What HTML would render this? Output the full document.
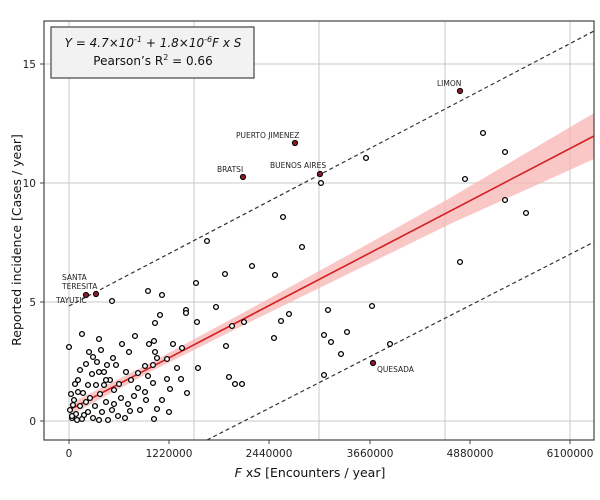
<!DOCTYPE html>
<html><head><meta charset="utf-8"><style>body{margin:0;background:#fff}svg{display:block}</style></head>
<body>
<svg width="600" height="500" viewBox="0 0 600 500" xmlns="http://www.w3.org/2000/svg" font-family="DejaVu Sans, Liberation Sans, sans-serif">
<rect width="600" height="500" fill="#fff"/>
<g stroke="#c8c8c8" stroke-width="1">
<line x1="69" y1="21" x2="69" y2="440"/><line x1="194" y1="21" x2="194" y2="440"/><line x1="319" y1="21" x2="319" y2="440"/><line x1="445" y1="21" x2="445" y2="440"/><line x1="570" y1="21" x2="570" y2="440"/>
<line x1="44" y1="421" x2="594" y2="421"/><line x1="44" y1="302" x2="594" y2="302"/><line x1="44" y1="183" x2="594" y2="183"/><line x1="44" y1="64" x2="594" y2="64"/>
</g>
<polygon points="69,404 150,363 250,309 350,254 450,198 594,113 594,159 450,224 350,273 250,322 150,372 69,416" fill="#f8b4b4" opacity="0.75"/>
<line x1="69" y1="410" x2="594" y2="136" stroke="#d42020" stroke-width="1.6"/>
<line x1="69" y1="306" x2="594" y2="31" stroke="#333" stroke-width="1.2" stroke-dasharray="4,3"/>
<line x1="207" y1="440" x2="594" y2="242" stroke="#333" stroke-width="1.2" stroke-dasharray="4,3"/>
<g fill="#fff" stroke="#000" stroke-width="1.3">
<circle cx="69" cy="347" r="2.4"/><circle cx="82" cy="334" r="2.4"/><circle cx="99" cy="339" r="2.4"/><circle cx="112" cy="301" r="2.4"/><circle cx="135" cy="336" r="2.4"/><circle cx="148" cy="291" r="2.4"/><circle cx="162" cy="295" r="2.4"/><circle cx="160" cy="315" r="2.4"/><circle cx="155" cy="323" r="2.4"/><circle cx="154" cy="341" r="2.4"/><circle cx="149" cy="344" r="2.4"/><circle cx="155" cy="352" r="2.4"/><circle cx="157" cy="358" r="2.4"/><circle cx="145" cy="366" r="2.4"/><circle cx="153" cy="365" r="2.4"/><circle cx="148" cy="376" r="2.4"/><circle cx="153" cy="383" r="2.4"/><circle cx="145" cy="392" r="2.4"/><circle cx="167" cy="359" r="2.4"/><circle cx="173" cy="344" r="2.4"/><circle cx="182" cy="348" r="2.4"/><circle cx="177" cy="368" r="2.4"/><circle cx="167" cy="379" r="2.4"/><circle cx="170" cy="389" r="2.4"/><circle cx="181" cy="379" r="2.4"/><circle cx="187" cy="393" r="2.4"/><circle cx="169" cy="412" r="2.4"/><circle cx="154" cy="419" r="2.4"/><circle cx="186" cy="310" r="2.4"/><circle cx="186" cy="313" r="2.4"/><circle cx="196" cy="283" r="2.4"/><circle cx="197" cy="322" r="2.4"/><circle cx="198" cy="368" r="2.4"/><circle cx="216" cy="307" r="2.4"/><circle cx="225" cy="274" r="2.4"/><circle cx="226" cy="346" r="2.4"/><circle cx="232" cy="326" r="2.4"/><circle cx="229" cy="377" r="2.4"/><circle cx="235" cy="384" r="2.4"/><circle cx="242" cy="384" r="2.4"/><circle cx="244" cy="322" r="2.4"/><circle cx="275" cy="275" r="2.4"/><circle cx="274" cy="338" r="2.4"/><circle cx="281" cy="321" r="2.4"/><circle cx="289" cy="314" r="2.4"/>
<circle cx="460" cy="262" r="2.4"/><circle cx="328" cy="310" r="2.4"/><circle cx="372" cy="306" r="2.4"/><circle cx="324" cy="335" r="2.4"/><circle cx="331" cy="342" r="2.4"/><circle cx="347" cy="332" r="2.4"/><circle cx="390" cy="344" r="2.4"/><circle cx="341" cy="354" r="2.4"/><circle cx="324" cy="375" r="2.4"/>
<circle cx="483" cy="133" r="2.4"/><circle cx="505" cy="152" r="2.4"/><circle cx="465" cy="179" r="2.4"/><circle cx="505" cy="200" r="2.4"/><circle cx="526" cy="213" r="2.4"/><circle cx="366" cy="158" r="2.4"/><circle cx="321" cy="183" r="2.4"/><circle cx="283" cy="217" r="2.4"/><circle cx="207" cy="241" r="2.4"/><circle cx="252" cy="266" r="2.4"/><circle cx="302" cy="247" r="2.4"/>
<circle cx="116" cy="365" r="2.4"/><circle cx="129" cy="352" r="2.4"/><circle cx="122" cy="344" r="2.4"/><circle cx="126" cy="372" r="2.4"/><circle cx="131" cy="380" r="2.4"/><circle cx="138" cy="388" r="2.4"/><circle cx="134" cy="396" r="2.4"/><circle cx="128" cy="404" r="2.4"/><circle cx="121" cy="398" r="2.4"/><circle cx="114" cy="390" r="2.4"/><circle cx="110" cy="380" r="2.4"/><circle cx="104" cy="372" r="2.4"/><circle cx="97" cy="362" r="2.4"/><circle cx="92" cy="374" r="2.4"/><circle cx="86" cy="364" r="2.4"/><circle cx="80" cy="370" r="2.4"/><circle cx="75" cy="384" r="2.4"/><circle cx="83" cy="393" r="2.4"/><circle cx="90" cy="398" r="2.4"/><circle cx="100" cy="394" r="2.4"/><circle cx="106" cy="402" r="2.4"/><circle cx="112" cy="410" r="2.4"/><circle cx="118" cy="416" r="2.4"/><circle cx="102" cy="412" r="2.4"/><circle cx="95" cy="406" r="2.4"/><circle cx="88" cy="412" r="2.4"/><circle cx="80" cy="406" r="2.4"/><circle cx="74" cy="400" r="2.4"/><circle cx="70" cy="410" r="2.4"/><circle cx="72" cy="418" r="2.4"/><circle cx="76" cy="414" r="2.4"/><circle cx="82" cy="419" r="2.4"/><circle cx="86" cy="402" r="2.4"/><circle cx="93" cy="418" r="2.4"/><circle cx="108" cy="420" r="2.4"/><circle cx="125" cy="418" r="2.4"/><circle cx="140" cy="410" r="2.4"/><circle cx="138" cy="373" r="2.4"/><circle cx="119" cy="384" r="2.4"/><circle cx="104" cy="385" r="2.4"/><circle cx="96" cy="385" r="2.4"/><circle cx="88" cy="385" r="2.4"/><circle cx="78" cy="392" r="2.4"/><circle cx="71" cy="394" r="2.4"/><circle cx="73" cy="405" r="2.4"/><circle cx="78" cy="380" r="2.4"/><circle cx="99" cy="372" r="2.4"/><circle cx="107" cy="365" r="2.4"/><circle cx="113" cy="358" r="2.4"/><circle cx="89" cy="352" r="2.4"/><circle cx="93" cy="357" r="2.4"/><circle cx="101" cy="350" r="2.4"/><circle cx="106" cy="380" r="2.4"/><circle cx="114" cy="404" r="2.4"/><circle cx="130" cy="411" r="2.4"/><circle cx="146" cy="400" r="2.4"/><circle cx="162" cy="400" r="2.4"/><circle cx="157" cy="409" r="2.4"/><circle cx="72" cy="416" r="2.4"/><circle cx="77" cy="420" r="2.4"/><circle cx="84" cy="415" r="2.4"/><circle cx="99" cy="420" r="2.4"/>
</g>
<g fill="#8b1a2a" stroke="#000" stroke-width="1"><circle cx="460" cy="91" r="2.6"/><circle cx="295" cy="143" r="2.6"/><circle cx="243" cy="177" r="2.6"/><circle cx="320" cy="174" r="2.6"/><circle cx="86" cy="295" r="2.6"/><circle cx="96" cy="294" r="2.6"/><circle cx="373" cy="363" r="2.6"/></g>
<g font-size="7.5" fill="#222">
<text x="437" y="86">LIMON</text><text x="236" y="138">PUERTO JIMENEZ</text><text x="217" y="172">BRATSI</text><text x="270" y="168">BUENOS AIRES</text><text x="62" y="280">SANTA</text><text x="62" y="289">TERESITA</text><text x="56" y="303">TAYUTIC</text><text x="377" y="372">QUESADA</text>
</g>
<rect x="44" y="21" width="550" height="419" fill="none" stroke="#444" stroke-width="1.2"/>
<g stroke="#444"><line x1="40" y1="64" x2="44" y2="64"/><line x1="40" y1="183" x2="44" y2="183"/><line x1="40" y1="302" x2="44" y2="302"/><line x1="40" y1="421" x2="44" y2="421"/>
<line x1="69" y1="440" x2="69" y2="444"/><line x1="169" y1="440" x2="169" y2="444"/><line x1="269" y1="440" x2="269" y2="444"/><line x1="370" y1="440" x2="370" y2="444"/><line x1="470" y1="440" x2="470" y2="444"/><line x1="570" y1="440" x2="570" y2="444"/></g>
<g font-size="10.5" fill="#222" text-anchor="end"><text x="36" y="68">15</text><text x="36" y="187">10</text><text x="36" y="306">5</text><text x="36" y="425">0</text></g>
<g font-size="10.5" fill="#222" text-anchor="middle"><text x="69" y="457">0</text><text x="169" y="457">1220000</text><text x="269" y="457">2440000</text><text x="370" y="457">3660000</text><text x="470" y="457">4880000</text><text x="570" y="457">6100000</text></g>
<text x="310" y="477" font-size="12.5" text-anchor="middle" fill="#111"><tspan font-style="italic">F</tspan> x<tspan font-style="italic">S</tspan>  [Encounters / year]</text>
<text transform="translate(21,240) rotate(-90)" font-size="12.5" text-anchor="middle" fill="#111">Reported incidence [Cases / year]</text>
<rect x="51" y="27" width="203" height="51" fill="#f2f2f2" stroke="#444" stroke-width="1.2"/>
<text x="153" y="47" font-size="12" text-anchor="middle" font-style="italic" fill="#111">Y = 4.7×10<tspan font-size="8" dy="-5">-1</tspan><tspan dy="5"> +  1.8×10</tspan><tspan font-size="8" dy="-5">-6</tspan><tspan dy="5">F x S</tspan></text>
<text x="153" y="65" font-size="12" text-anchor="middle" fill="#111">Pearson’s R<tspan font-size="8" dy="-5">2</tspan><tspan dy="5"> = 0.66</tspan></text>
</svg>
</body></html>
